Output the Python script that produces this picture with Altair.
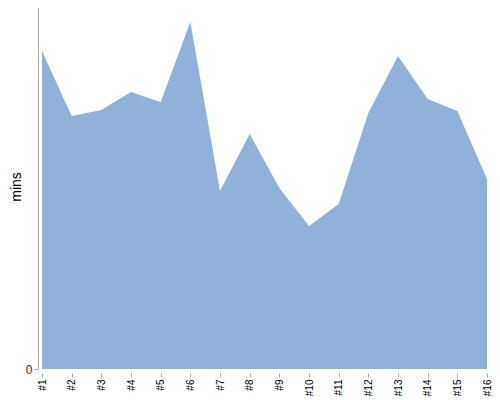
import altair as alt
import pandas as pd

labels = ["#1", "#2", "#3", "#4", "#5", "#6", "#7", "#8", "#9", "#10",
          "#11", "#12", "#13", "#14", "#15", "#16"]
mins = [318, 253, 259, 277, 267, 347, 178, 235, 181, 143,
        165, 256, 313, 270, 258, 190]

df = pd.DataFrame({"run": labels, "mins": mins})

chart = alt.Chart(df).mark_area(color="#90b2da", opacity=1).encode(
    x=alt.X("run:N", sort=labels, title=None,
            scale=alt.Scale(type="point", padding=0),
            axis=alt.Axis(labelAngle=-90, domain=False, offset=4, tickSize=4,
                          tickColor="#aaaaaa", labelFont="Liberation Sans",
                          labelFontSize=10, labelColor="#000000", labelPadding=2)),
    y=alt.Y("mins:Q", title="mins",
            scale=alt.Scale(domain=[0, 365], nice=False),
            axis=alt.Axis(values=[0], offset=4, grid=False, domainColor="#aaaaaa",
                          tickColor="#aaaaaa", tickSize=4,
                          labelFont="Liberation Sans", labelFontSize=12,
                          labelColor="#333333", titleFont="Liberation Sans",
                          titleFontSize=14, titleFontWeight="normal",
                          titleColor="#000000", titlePadding=2)),
).properties(
    width=445, height=365,
    autosize=alt.AutoSizeParams(type="none"),
    padding={"left": 34, "top": -4, "right": 5, "bottom": 30},
).configure_view(stroke=None)

chart.save("out.html", embed_options={"renderer": "svg", "actions": False})
